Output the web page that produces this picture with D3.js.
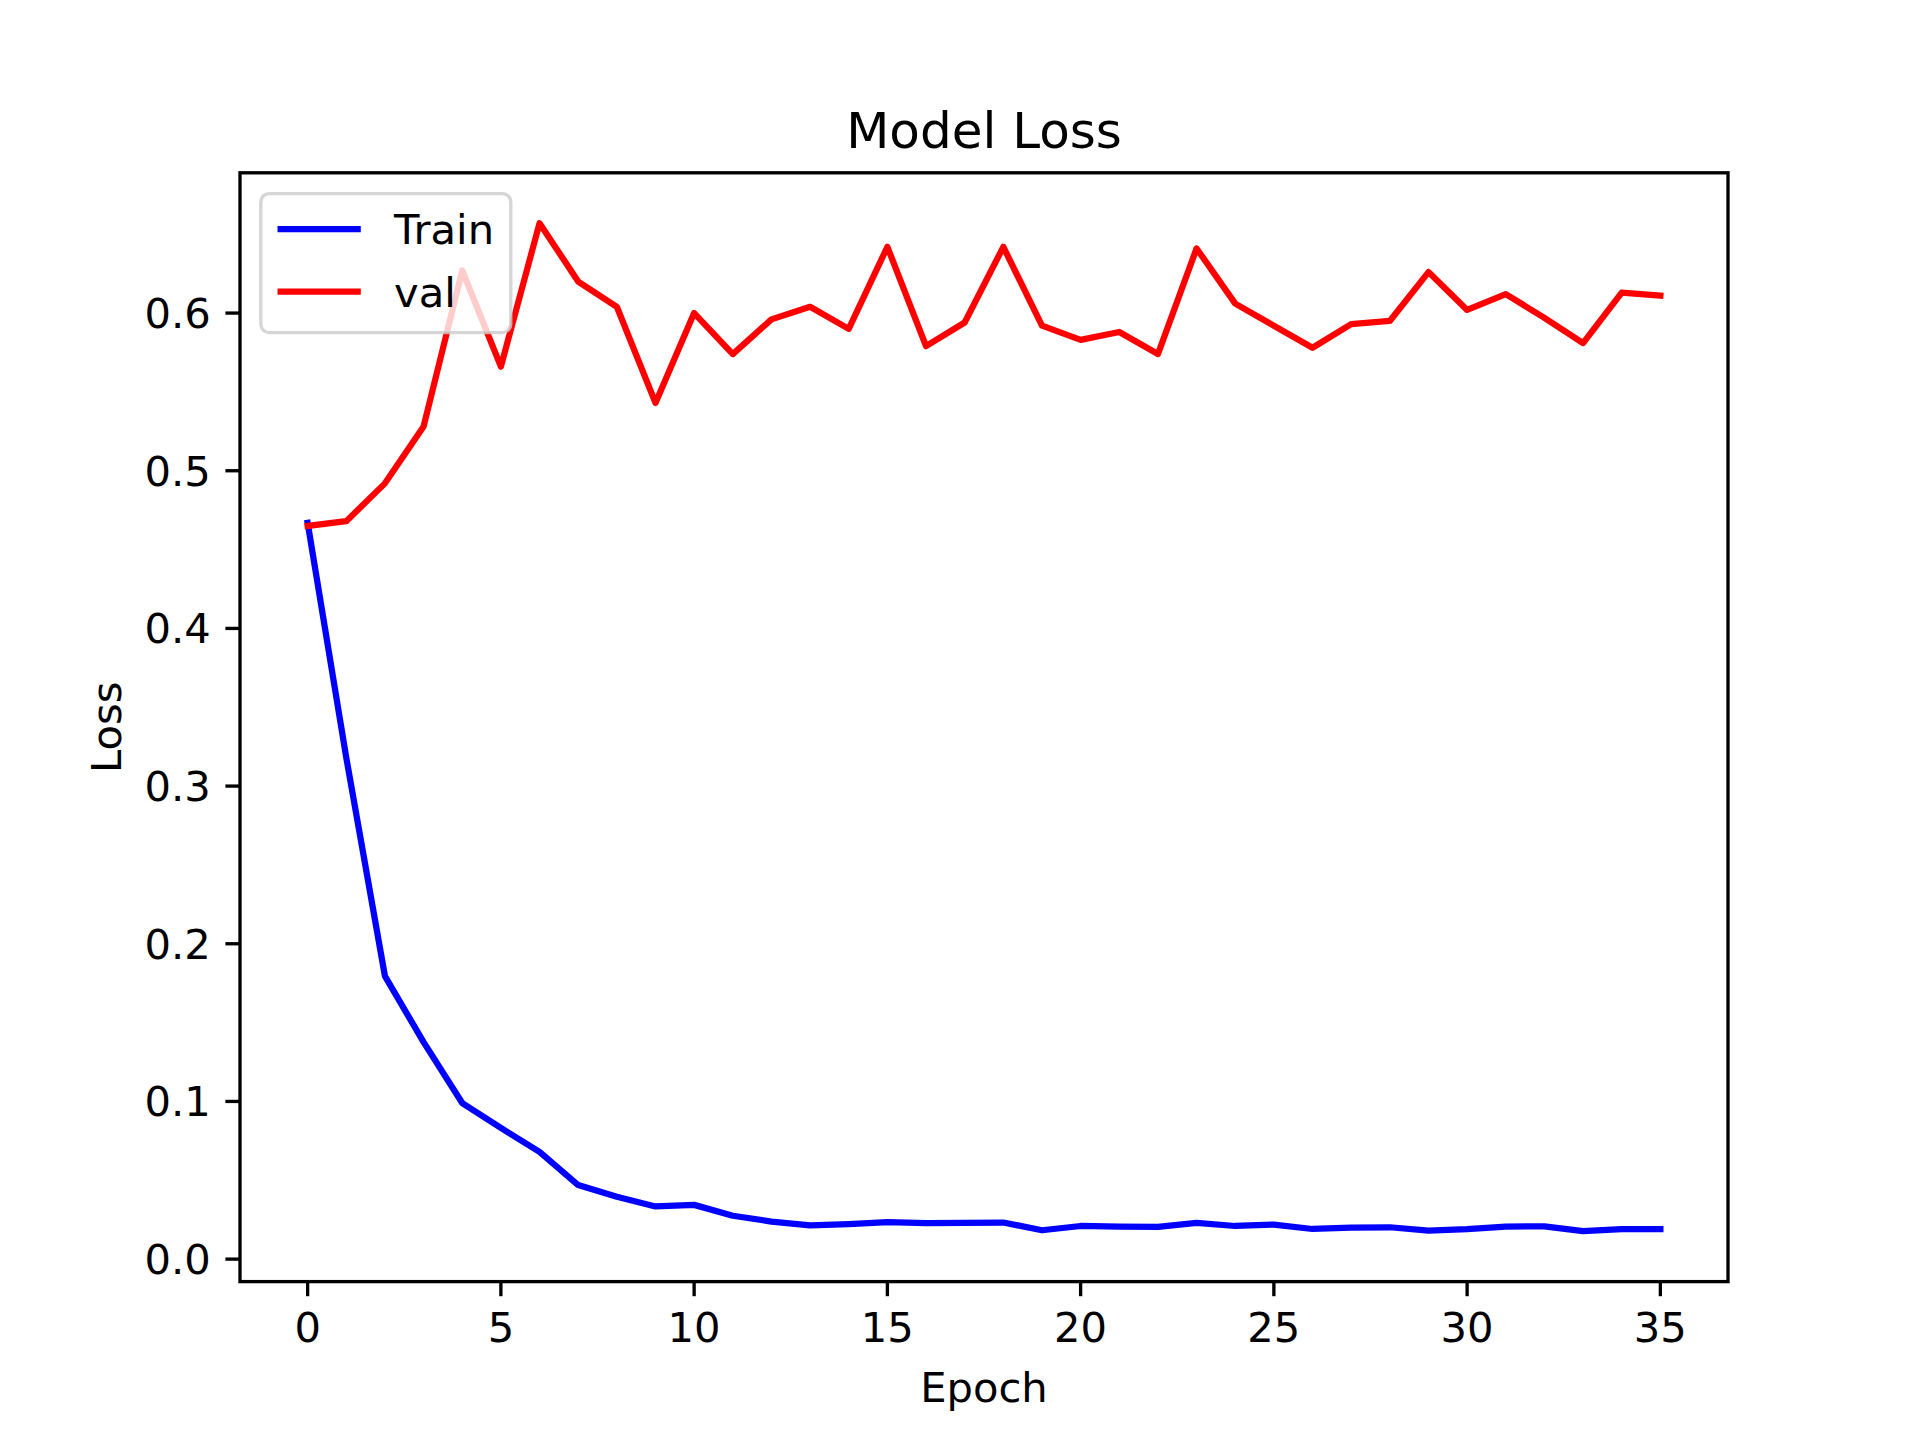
<!DOCTYPE html>
<html><head><meta charset="utf-8">
<script src="https://cdn.jsdelivr.net/npm/d3@7"></script>
<style>body{margin:0;background:#fff}svg{display:block}text{font-family:"DejaVu Sans",sans-serif;fill:#000}</style>
</head><body><svg id="c" width="1920" height="1440"></svg>
<script>
const epochs = d3.range(36);
const trainLoss = [0.467,0.318,0.1795,0.1376,0.099,0.0832,0.068,0.047,0.0395,0.0334,0.0344,0.0275,0.0238,0.0214,0.0222,0.0234,0.0228,0.023,0.0232,0.0183,0.021,0.0206,0.0204,0.023,0.021,0.0219,0.0191,0.02,0.0202,0.0181,0.019,0.0206,0.0208,0.0177,0.019,0.019];
const valLoss = [0.465,0.468,0.492,0.528,0.627,0.566,0.657,0.620,0.604,0.543,0.600,0.574,0.596,0.604,0.590,0.642,0.579,0.594,0.642,0.592,0.583,0.588,0.574,0.641,0.606,0.592,0.578,0.593,0.595,0.626,0.602,0.612,0.597,0.581,0.613,0.611];
const xTicks = [0,5,10,15,20,25,30,35];
const yTicks = [0.0,0.1,0.2,0.3,0.4,0.5,0.6];
const seriesNames = ["Train","val"];
const seriesColors = ["#0000ff","#ff0000"];

const svg = d3.select("#c");
const L=240,R=1728,T=172.8,B=1281.6;
const fs = 41.67;
const all = trainLoss.concat(valLoss);
const ymin=d3.min(all), ymax=d3.max(all), yr=ymax-ymin;
const x = d3.scaleLinear().domain([-0.05*35, 35*1.05]).range([L,R]);
const y = d3.scaleLinear().domain([ymin-0.05*yr, ymax+0.05*yr]).range([B,T]);

const line = d3.line().x((d,i)=>x(epochs[i])).y(d=>y(d));
const g = svg.append("g");
g.append("defs").append("clipPath").attr("id","clip").append("rect").attr("x",L).attr("y",T).attr("width",R-L).attr("height",B-T);
[trainLoss,valLoss].forEach((s,k)=>{
  g.append("path").datum(s).attr("d",line).attr("fill","none").attr("stroke",seriesColors[k])
   .attr("stroke-width",6.25).attr("stroke-linejoin","round").attr("stroke-linecap","square").attr("clip-path","url(#clip)");
});

// axes
const tl=14.6, tw=3.33;
xTicks.forEach(t=>{
  svg.append("line").attr("x1",x(t)).attr("x2",x(t)).attr("y1",B).attr("y2",B+tl).attr("stroke","#000").attr("stroke-width",tw);
  svg.append("text").attr("x",x(t)).attr("y",B+tl+14.6+0.76*fs).attr("text-anchor","middle").attr("font-size",fs).text(d3.format("d")(t));
});
yTicks.forEach(t=>{
  svg.append("line").attr("x1",L-tl).attr("x2",L).attr("y1",y(t)).attr("y2",y(t)).attr("stroke","#000").attr("stroke-width",tw);
  svg.append("text").attr("x",L-tl-14.6).attr("y",y(t)+0.36*fs).attr("text-anchor","end").attr("font-size",fs).text(d3.format(".1f")(t));
});
svg.append("rect").attr("x",L).attr("y",T).attr("width",R-L).attr("height",B-T).attr("fill","none").attr("stroke","#000").attr("stroke-width",tw);

svg.append("text").attr("x",(L+R)/2).attr("y",T-25).attr("text-anchor","middle").attr("font-size",50).text("Model Loss");
svg.append("text").attr("x",(L+R)/2).attr("y",1387+15).attr("text-anchor","middle").attr("font-size",fs).text("Epoch");
svg.append("text").attr("transform","translate(121,"+((T+B)/2)+") rotate(-90)").attr("text-anchor","middle").attr("font-size",fs).text("Loss");

// legend
const lx=L+20.8, ly=T+20.8;
const lg = svg.append("g");
lg.append("rect").attr("x",lx).attr("y",ly).attr("width",250).attr("height",139).attr("rx",8.3)
  .attr("fill","#fff").attr("fill-opacity",0.8).attr("stroke","#cccccc").attr("stroke-opacity",0.8).attr("stroke-width",3.33);
seriesNames.forEach((n,k)=>{
  const cy = 229+k*62.5;
  lg.append("line").attr("x1",lx+16.7).attr("x2",lx+16.7+83.3).attr("y1",cy).attr("y2",cy).attr("stroke",seriesColors[k]).attr("stroke-width",6.25);
  lg.append("text").attr("x",lx+16.7+83.3+33.3).attr("y",cy+0.36*fs).attr("font-size",fs).text(n);
});
</script></body></html>
